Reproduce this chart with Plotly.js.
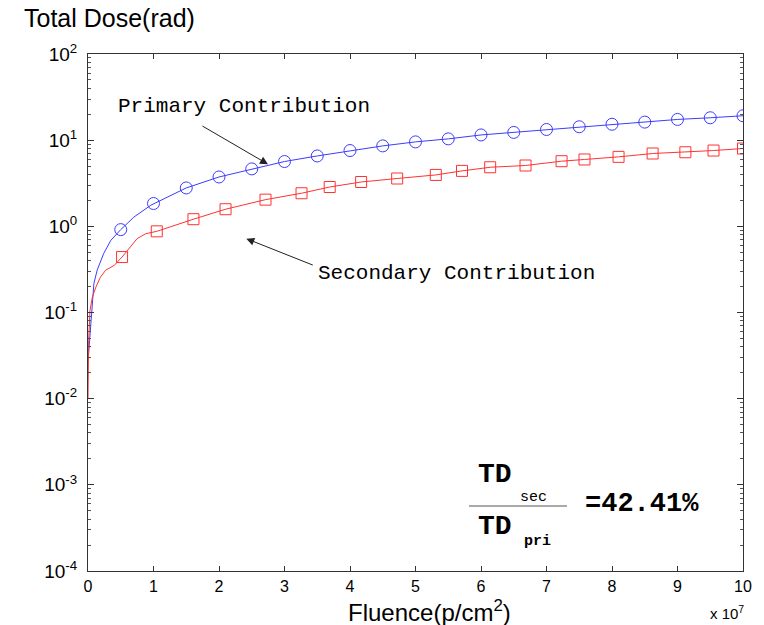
<!DOCTYPE html>
<html>
<head>
<meta charset="utf-8">
<script src="https://cdn.plot.ly/plotly-3.0.1.min.js"></script>
<style>html,body{margin:0;padding:0;background:#fff;}#chart{width:764px;height:625px;}</style>
</head>
<body>
<div id="chart"></div>
<script>
// Primary contribution: markers
const primaryMarkX = [0.5,1.0,1.5,2.0,2.5,3.0,3.5,4.0,4.5,5.0,5.5,6.0,6.5,7.0,7.5,8.0,8.5,9.0,9.5,10.0];
const primaryMarkY = [0.916,1.84,2.79,3.74,4.64,5.65,6.56,7.58,8.58,9.55,10.35,11.5,12.3,13.3,14.3,15.3,16.2,17.4,18.2,19.2];
// Primary contribution: line (early part read separately)
const primaryLineX = [0.005,0.015,0.04,0.09,0.14,0.24,0.35,0.5,0.7,0.96,1.5,2.0,2.5,3.0,3.5,4.0,4.5,5.0,5.5,6.0,6.5,7.0,7.5,8.0,8.5,9.0,9.5,10.0];
const primaryLineY = [0.03,0.036,0.068,0.217,0.31,0.485,0.69,0.916,1.28,1.76,2.79,3.74,4.64,5.65,6.56,7.58,8.58,9.55,10.35,11.5,12.3,13.3,14.3,15.3,16.2,17.4,18.2,19.2];

// Secondary contribution: markers
const secondaryMarkX = [0.52,1.05,1.61,2.10,2.71,3.26,3.69,4.17,4.72,5.31,5.71,6.14,6.68,7.23,7.58,8.10,8.62,9.12,9.55,10.0];
const secondaryMarkY = [0.44,0.875,1.21,1.58,2.04,2.42,2.86,3.27,3.59,3.95,4.40,4.85,5.08,5.70,5.97,6.40,7.00,7.24,7.58,8.0];
// Secondary contribution: line
const secondaryLineX = [0.0,0.01,0.03,0.066,0.12,0.19,0.27,0.40,0.52,0.63,0.75,0.88,1.05,1.61,2.10,2.71,3.26,3.69,4.17,4.72,5.31,5.71,6.14,6.68,7.23,7.58,8.10,8.62,9.12,9.55,10.0];
const secondaryLineY = [0.01,0.047,0.105,0.15,0.197,0.257,0.31,0.352,0.44,0.55,0.72,0.82,0.875,1.21,1.58,2.04,2.42,2.86,3.27,3.59,3.95,4.40,4.85,5.08,5.70,5.97,6.40,7.00,7.24,7.58,8.0];

const yTickVals = [1e-4,1e-3,1e-2,1e-1,1,10,100];
const yTickText = ['10<sup>-4</sup>','10<sup>-3</sup>','10<sup>-2</sup>','10<sup>-1</sup>','10<sup>0</sup>','10<sup>1</sup>','10<sup>2</sup>'];
const xTickVals = [0,1,2,3,4,5,6,7,8,9,10];
const xTickText = ['0','1','2','3','4','5','6','7','8','9','10'];

const minorVals = [];
for (let e = -4; e < 2; e++) { for (let m = 2; m <= 9; m++) minorVals.push(m * Math.pow(10, e)); }

const blue = 'rgb(60,60,255)';
const red = 'rgb(255,50,50)';

const traces = [
  {x: primaryLineX, y: primaryLineY, mode: 'lines', line: {color: blue, width: 1}, hoverinfo: 'skip'},
  {x: primaryMarkX, y: primaryMarkY, mode: 'markers', marker: {symbol: 'circle-open', size: 12, color: blue, line: {width: 1, color: blue}}},
  {x: secondaryLineX, y: secondaryLineY, mode: 'lines', line: {color: red, width: 1}, hoverinfo: 'skip'},
  {x: secondaryMarkX, y: secondaryMarkY, mode: 'markers', marker: {symbol: 'square-open', size: 11, color: red, line: {width: 1, color: red}}}
];

const mono = 'Liberation Mono, Courier New, monospace';
const sans = 'Liberation Sans, Arial, sans-serif';

const layout = {
  width: 764, height: 625,
  margin: {l: 88, r: 21, t: 54, b: 54},
  paper_bgcolor: '#fff', plot_bgcolor: '#fff',
  showlegend: false,
  font: {family: sans, color: '#000'},
  xaxis: {
    range: [0, 10], tickvals: xTickVals, ticktext: xTickText,
    ticks: 'inside', ticklen: 5, tickcolor: '#333', mirror: 'ticks',
    showline: true, linecolor: '#333', linewidth: 1, showgrid: false, zeroline: false,
    tickfont: {size: 16, family: sans, color: '#000'}, ticklabelstandoff: 1
  },
  yaxis: {
    type: 'log', range: [-4, 2], tickvals: yTickVals, ticktext: yTickText,
    ticks: 'inside', ticklen: 6, tickcolor: '#333', mirror: 'ticks',
    showline: true, linecolor: '#333', linewidth: 1, showgrid: false, zeroline: false,
    tickfont: {size: 19, family: sans, color: '#000'}, ticklabelstandoff: 6,
    minor: {tickvals: minorVals, ticks: 'inside', ticklen: 3, tickcolor: '#555', showgrid: false}
  },
  shapes: [
    {type: 'line', xref: 'paper', yref: 'paper', x0: 0.5817, x1: 0.7313, y0: 0.1257, y1: 0.1257, line: {color: '#555', width: 1}}
  ],
  annotations: [
    {xref: 'paper', yref: 'paper', x: -0.1008, y: 1.0696, xanchor: 'left', yanchor: 'middle', showarrow: false,
     text: 'Total Dose(rad)', font: {size: 25, family: sans, color: '#000'}},
    {xref: 'paper', yref: 'paper', x: 0.522, y: -0.077, xanchor: 'center', yanchor: 'middle', showarrow: false,
     text: 'Fluence(p/cm<sup>2</sup>)', font: {size: 24, family: sans, color: '#000'}},
    {xref: 'paper', yref: 'paper', x: 1.004, y: -0.081, xanchor: 'right', yanchor: 'middle', showarrow: false,
     text: 'x 10<sup>7</sup>', font: {size: 15, family: sans, color: '#000'}},
    {xref: 'paper', yref: 'paper', x: 0.238, y: 0.8975, xanchor: 'center', yanchor: 'middle', showarrow: false,
     text: 'Primary Contribution', font: {size: 21, family: mono, color: '#000'}},
    {xref: 'paper', yref: 'paper', x: 0.5626, y: 0.5745, xanchor: 'center', yanchor: 'middle', showarrow: false,
     text: 'Secondary Contribution', font: {size: 21, family: mono, color: '#000'}},
    {xref: 'x', yref: 'y', x: 2.748, y: 0.721, ax: -67, ay: -39, text: '', showarrow: true,
     arrowhead: 2, arrowsize: 1.6, arrowwidth: 1, arrowcolor: '#222'},
    {xref: 'x', yref: 'y', x: 2.417, y: -0.143, ax: 68, ay: 27, text: '', showarrow: true,
     arrowhead: 2, arrowsize: 1.6, arrowwidth: 1, arrowcolor: '#222'},
    {xref: 'paper', yref: 'paper', x: 0.6214, y: 0.1876, xanchor: 'center', yanchor: 'middle', showarrow: false,
     text: '<b>TD</b>', font: {size: 28, family: mono, color: '#000'}},
    {xref: 'paper', yref: 'paper', x: 0.6794, y: 0.1431, xanchor: 'center', yanchor: 'middle', showarrow: false,
     text: 'sec', font: {size: 15, family: mono, color: '#000'}},
    {xref: 'paper', yref: 'paper', x: 0.6214, y: 0.0870, xanchor: 'center', yanchor: 'middle', showarrow: false,
     text: '<b>TD</b>', font: {size: 28, family: mono, color: '#000'}},
    {xref: 'paper', yref: 'paper', x: 0.6855, y: 0.0561, xanchor: 'center', yanchor: 'middle', showarrow: false,
     text: '<b>pri</b>', font: {size: 15, family: mono, color: '#000'}},
    {xref: 'paper', yref: 'paper', x: 0.8458, y: 0.1296, xanchor: 'center', yanchor: 'middle', showarrow: false,
     text: '<b>=42.41%</b>', font: {size: 27, family: mono, color: '#000'}}
  ]
};

Plotly.newPlot('chart', traces, layout, {displayModeBar: false, staticPlot: true});
</script>
</body>
</html>
